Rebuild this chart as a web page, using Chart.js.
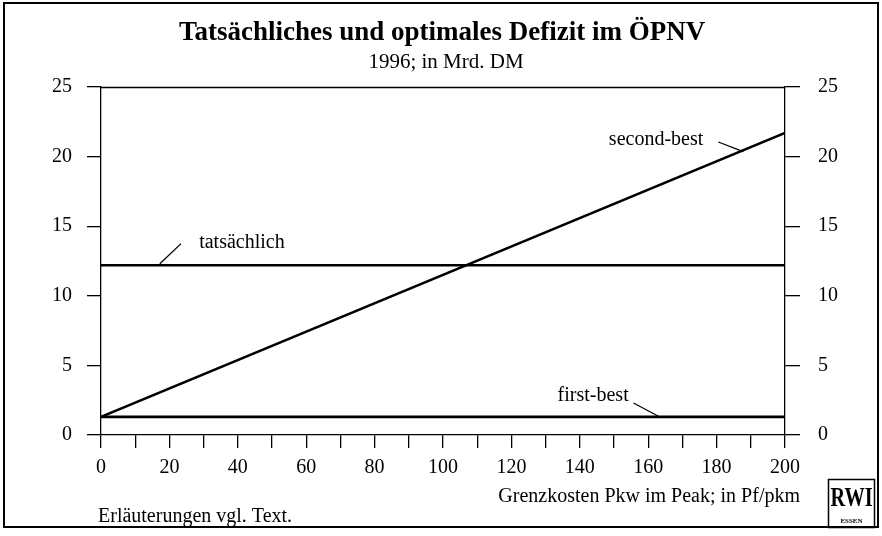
<!DOCTYPE html>
<html>
<head>
<meta charset="utf-8">
<script src="https://cdn.jsdelivr.net/npm/chart.js@4/dist/chart.umd.min.js"></script>
<style>
  html, body { margin: 0; padding: 0; background: #fff; }
  #wrap { position: relative; width: 882px; height: 536px; }
</style>
</head>
<body>
<div id="wrap"><canvas id="c" width="882" height="536"></canvas></div>
<script>
// ---- data ----
const xValues = [0, 200];
const tatsaechlich = [12.2, 12.2];
const secondBest = [1.3, 21.7];
const firstBest = [1.3, 1.3];
const yTicks = [0, 5, 10, 15, 20, 25];
const xLabelTicks = [0, 20, 40, 60, 80, 100, 120, 140, 160, 180, 200];

const titleText = 'Tatsächliches und optimales Defizit im ÖPNV';
const subtitleText = '1996; in Mrd. DM';
const xAxisTitle = 'Grenzkosten Pkw im Peak; in Pf/pkm';
const footnote = 'Erläuterungen vgl. Text.';

// labels with leader lines (data coordinates)
const seriesLabels = [
  { text: 'second-best', x: 162.3, y: 21.2, from: [180.5, 21.05], to: [187.8, 20.35] },
  { text: 'tatsächlich', x: 41.2, y: 13.8, from: [23.4, 13.75], to: [17.2, 12.3] },
  { text: 'first-best', x: 143.9, y: 2.8, from: [155.7, 2.3], to: [163.0, 1.35] }
];

const SERIF = '"Liberation Serif", "DejaVu Serif", serif';

const toPts = arr => xValues.map((x, i) => ({ x: x, y: arr[i] }));

const decor = {
  id: 'decor',
  afterDraw(chart) {
    const ctx = chart.ctx;
    const a = chart.chartArea;
    const xs = chart.scales.x, ys = chart.scales.y;
    ctx.save();
    // plot frame top
    ctx.strokeStyle = '#000';
    ctx.lineWidth = 1.3;
    ctx.beginPath();
    ctx.moveTo(a.left, a.top + 0.5);
    ctx.lineTo(a.right, a.top + 0.5);
    ctx.stroke();
    // outer frame
    ctx.lineWidth = 2;
    ctx.strokeRect(4, 3, 874, 524);
    // title
    ctx.fillStyle = '#000';
    ctx.textAlign = 'center';
    ctx.textBaseline = 'alphabetic';
    ctx.font = 'bold 27px ' + SERIF;
    ctx.fillText(titleText, 442, 40);
    ctx.font = '21px ' + SERIF;
    ctx.fillText(subtitleText, 446, 68);
    // axis title
    ctx.textAlign = 'right';
    ctx.font = '20px ' + SERIF;
    ctx.fillText(xAxisTitle, 800, 502);
    // footnote
    ctx.textAlign = 'left';
    ctx.fillText(footnote, 98, 522);
    // series labels + leaders
    ctx.lineWidth = 1.3;
    seriesLabels.forEach(l => {
      ctx.textAlign = 'center';
      ctx.textBaseline = 'middle';
      ctx.fillText(l.text, xs.getPixelForValue(l.x), ys.getPixelForValue(l.y));
      ctx.beginPath();
      ctx.moveTo(xs.getPixelForValue(l.from[0]), ys.getPixelForValue(l.from[1]));
      ctx.lineTo(xs.getPixelForValue(l.to[0]), ys.getPixelForValue(l.to[1]));
      ctx.stroke();
    });
    // RWI logo
    ctx.lineWidth = 1.5;
    ctx.strokeRect(828.5, 479.5, 46, 48);
    ctx.textAlign = 'center';
    ctx.textBaseline = 'alphabetic';
    ctx.font = 'bold 27px ' + SERIF;
    ctx.save();
    ctx.translate(851.5, 506);
    ctx.scale(0.75, 1);
    ctx.fillText('RWI', 0, 0);
    ctx.restore();
    ctx.font = 'bold 7px ' + SERIF;
    ctx.fillText('ESSEN', 851.5, 523);
    ctx.restore();
  }
};

const lineStyle = { borderColor: '#000', borderWidth: 2.6, pointRadius: 0, fill: false, tension: 0 };

new Chart(document.getElementById('c'), {
  type: 'line',
  data: {
    datasets: [
      Object.assign({ label: 'tatsächlich', data: toPts(tatsaechlich) }, lineStyle),
      Object.assign({ label: 'second-best', data: toPts(secondBest) }, lineStyle),
      Object.assign({ label: 'first-best', data: toPts(firstBest) }, lineStyle)
    ]
  },
  options: {
    responsive: false,
    animation: false,
    devicePixelRatio: 1,
    layout: { padding: { top: 87, left: 0, right: 0, bottom: 0 } },
    plugins: { legend: { display: false }, tooltip: { enabled: false }, title: { display: false } },
    scales: {
      x: {
        type: 'linear', min: 0, max: 200,
        afterFit(s) { s.height = 101; },
        afterBuildTicks(s) { s.ticks = []; for (let v = 0; v <= 200; v += 10) s.ticks.push({ value: v }); },
        ticks: {
          color: '#000', font: { family: SERIF, size: 20 }, padding: 8, maxRotation: 0, autoSkip: false,
          callback: v => xLabelTicks.includes(v) ? String(v) : ''
        },
        grid: { drawOnChartArea: false, color: '#000', tickLength: 13, lineWidth: 1.3 },
        border: { color: '#000', width: 1.3 }
      },
      y: {
        position: 'left', min: 0, max: 25,
        afterFit(s) { s.width = 101; },
        afterBuildTicks(s) { s.ticks = yTicks.map(v => ({ value: v })); },
        ticks: { color: '#000', font: { family: SERIF, size: 20 }, padding: 15 },
        grid: { drawOnChartArea: false, color: '#000', tickLength: 14, lineWidth: 1.3 },
        border: { color: '#000', width: 1.3 }
      },
      y2: {
        position: 'right', min: 0, max: 25,
        afterFit(s) { s.width = 97; },
        afterBuildTicks(s) { s.ticks = yTicks.map(v => ({ value: v })); },
        ticks: { color: '#000', font: { family: SERIF, size: 20 }, padding: 18 },
        grid: { drawOnChartArea: false, color: '#000', tickLength: 15, lineWidth: 1.3 },
        border: { color: '#000', width: 1.3 }
      }
    }
  },
  plugins: [decor]
});
</script>
</body>
</html>
